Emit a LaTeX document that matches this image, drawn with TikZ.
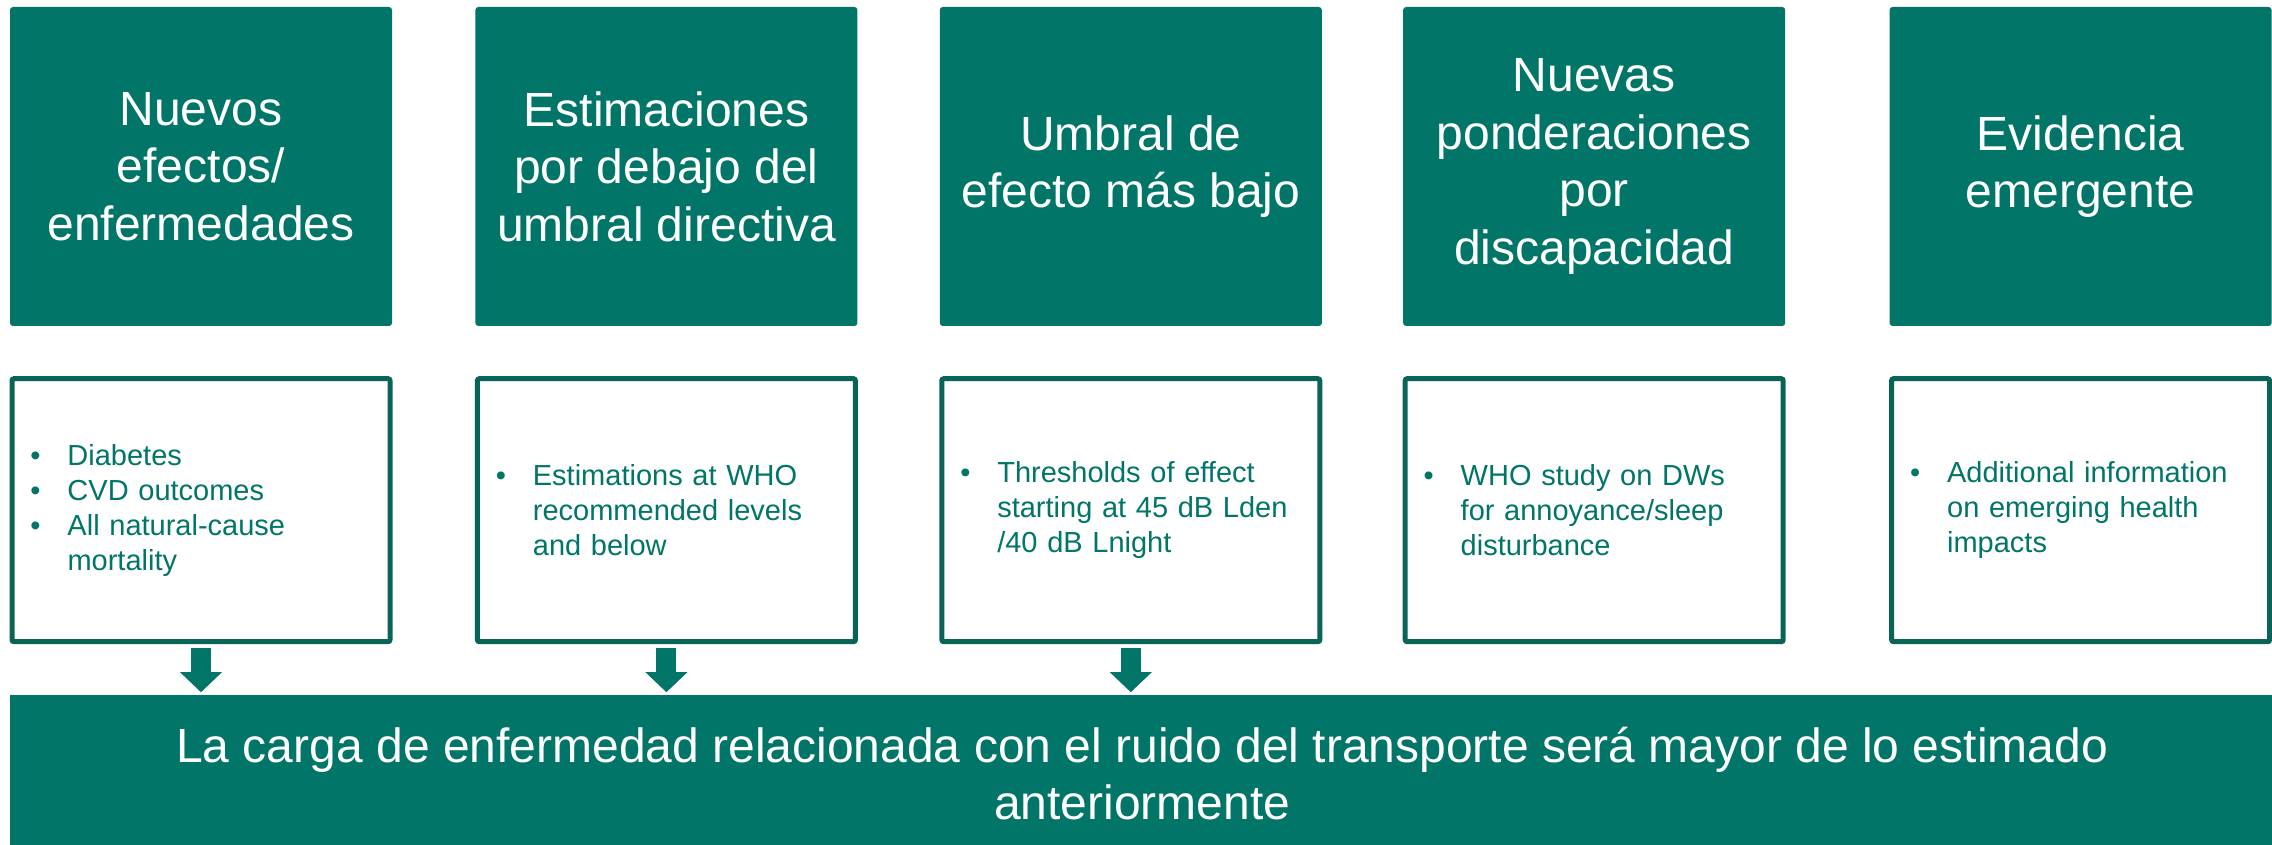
\documentclass[tikz,border=0pt]{standalone}
\usepackage{fontspec}
\setmainfont{Liberation Sans}
\usepackage{tikz}
\usetikzlibrary{positioning,arrows.meta}
\tikzstyle{heading} = [rectangle, rounded corners=3pt, minimum width=382pt, minimum height=319pt, inner sep=0pt, fill=whogreen, text=white, align=center, font=\fontsize{48}{57.6}\selectfont]
\tikzstyle{detail} = [rectangle, rounded corners=2pt, minimum width=378pt, minimum height=263pt, draw=whodark, line width=5pt, fill=white, text=whogreen, text width=341pt, align=left, font=\fontsize{29}{35}\selectfont]
\tikzstyle{banner} = [rectangle, minimum width=2265pt, minimum height=156pt, inner sep=0pt, fill=whogreen, text=white, align=center, font=\fontsize{48}{57.6}\selectfont]
\tikzstyle{arrow} = [line width=20pt, draw=whogreen, -{Triangle[width=42pt,length=20pt,line width=0pt]}, shorten <=4pt, shorten >=3pt]
\definecolor{whogreen}{RGB}{0,117,104}
\definecolor{whodark}{RGB}{8,100,86}
\newcommand{\bul}[1]{\makebox[37pt][l]{\textbullet}#1}
\newcommand{\indbul}{\hspace*{37pt}}

\begin{document}
\begin{tikzpicture}[x=1pt,y=1pt]
\useasboundingbox (0,0) rectangle (2272,845);
\node (top1) [heading] at (201,678.5) {Nuevos\\efectos/\\enfermedades};
\node (top2) [heading, right=83pt of top1] {Estimaciones\\por debajo del\\umbral directiva};
\node (top3) [heading, right=82pt of top2] {Umbral de\\efecto más bajo};
\node (top4) [heading, right=81pt of top3] {Nuevas\\ponderaciones\\por\\discapacidad};
\node (top5) [heading, right=104pt of top4] {Evidencia\\emergente};

\node (det1) [detail, below=50pt of top1] {\bul{Diabetes}\\ \bul{CVD outcomes}\\ \bul{All natural-cause}\\ \indbul mortality};
\node (det2) [detail, below=50pt of top2] {\bul{Estimations at WHO}\\ \indbul recommended levels\\ \indbul and below};
\node (det3) [detail, below=50pt of top3] {\bul{Thresholds of effect}\\ \indbul starting at 45 dB Lden\\ \indbul /40 dB Lnight};
\node (det4) [detail, below=50pt of top4] {\bul{WHO study on DWs}\\ \indbul for annoyance/sleep\\ \indbul disturbance};
\node (det5) [detail, below=50pt of top5] {\bul{Additional information}\\ \indbul on emerging health\\ \indbul impacts};

\node (summary) [banner, below=51pt of det1.south west, anchor=north west] {La carga de enfermedad relacionada con el ruido del transporte será mayor de lo estimado\\anteriormente};

\draw[arrow] (det1.south) -- (det1.south |- summary.north);
\draw[arrow] (det2.south) -- (det2.south |- summary.north);
\draw[arrow] (det3.south) -- (det3.south |- summary.north);
\end{tikzpicture}
\end{document}
